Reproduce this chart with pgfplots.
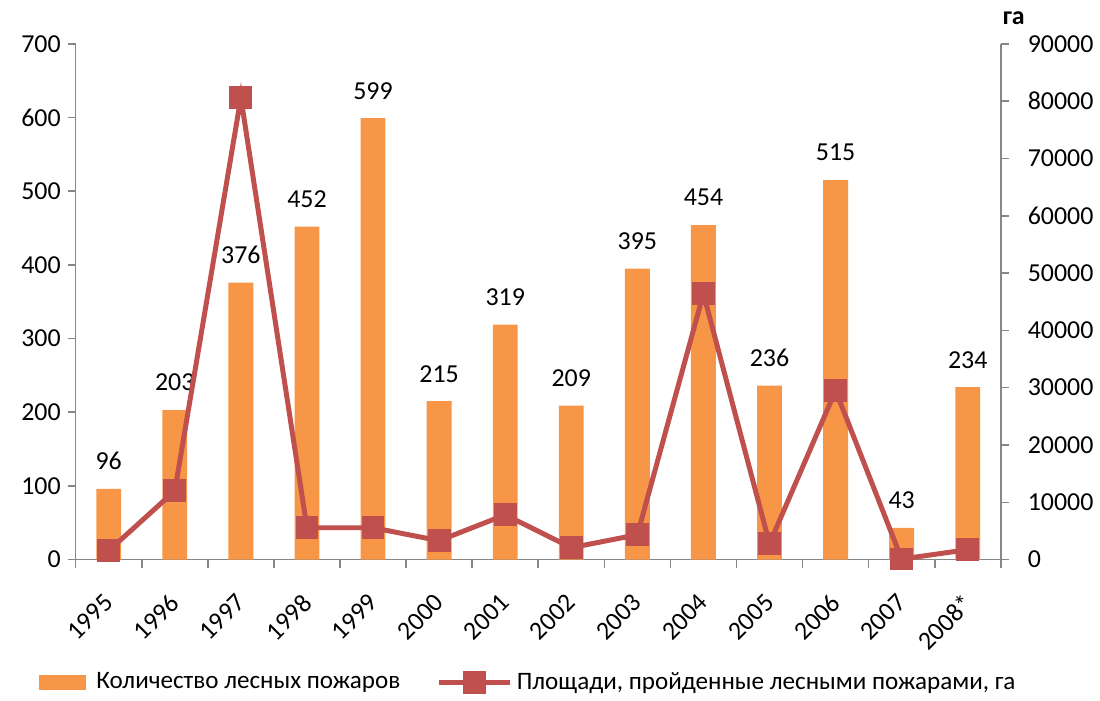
\documentclass[border=0pt]{standalone}
\usepackage{pgfplots}
\pgfplotsset{compat=1.18}
\usepackage{fontspec}
\setmainfont{Carlito}
\definecolor{barorange}{HTML}{F79646}
\definecolor{linered}{HTML}{C0504D}
\definecolor{axisgray}{HTML}{868686}

\begin{document}
\begin{tikzpicture}[font=\fontsize{13}{16}\selectfont]
\pgfplotsset{
  every axis/.append style={
    scale only axis, width=464.5pt, height=259pt,
    xmin=-0.5, xmax=13.5,
    /pgf/number format/assume math mode=true,
    /pgf/number format/1000 sep={},
    tick label style={font=\fontsize{13}{16}\selectfont},
    axis line style={axisgray, line width=0.8pt},
    tick style={axisgray, line width=0.8pt},
    tick align=outside,
    major tick length=4pt,
  }
}
\begin{axis}[
  axis x line*=bottom, axis y line*=left,
  ymin=0, ymax=700, ytick={0,100,...,700},
  xtick={-0.5,0.5,...,13.5}, xticklabels={},
  extra x ticks={0,...,13},
  extra x tick labels={1995,1996,1997,1998,1999,2000,2001,2002,2003,2004,2005,2006,2007,2008*},
  % shifts act in the rotated frame of the label
  extra x tick style={major tick length=0pt, xticklabel style={rotate=45, anchor=north east, inner sep=1pt, xshift=-12.6pt, yshift=-8.3pt}},
  ybar, bar width=12.5pt,
  nodes near coords,
  every node near coord/.append style={black, font=\fontsize{13}{16}\selectfont, yshift=6pt},
  legend style={draw=none, at={(0.49,-0.2375)}, anchor=center, legend columns=2,
    /tikz/every even column/.append style={column sep=16pt},
    font=\fontsize{12.6}{15}\selectfont},
]
\addplot[fill=barorange, draw=none,
  legend image code/.code={\fill[barorange] (0pt,-3.75pt) rectangle (24pt,3.75pt); \path (27pt,0pt);}]
  coordinates {
  (0,96) (1,203) (2,376) (3,452) (4,599) (5,215) (6,319)
  (7,209) (8,395) (9,454) (10,236) (11,515) (12,43) (13,234)
};
\addlegendentry{Количество лесных пожаров}
\addlegendimage{linered, line width=2.5pt, mark=square*, mark size=4.5pt, mark options={fill=linered},
  legend image code/.code={\draw[mark=none] (0pt,0pt) -- (36pt,0pt); \draw plot coordinates {(18pt,0pt)};}}
\addlegendentry{Площади, пройденные лесными пожарами, га}
\end{axis}
\begin{axis}[
  axis y line*=right, axis x line=none, clip=false,
  ymin=0, ymax=90000, ytick={0,10000,...,90000}, scaled y ticks=false,
  yticklabel style={xshift=6pt},
]
\addplot[linered, line width=2.5pt, mark=square*, mark size=4.5pt, mark options={fill=linered}]
  coordinates {
  (0,1560) (1,12000) (2,80600) (3,5560) (4,5560) (5,3300) (6,7820)
  (7,2080) (8,4340) (9,46400) (10,2780) (11,29500) (12,100) (13,1740)
};
\node[anchor=south, font=\fontsize{13}{16}\selectfont\bfseries] at (rel axis cs:1,1) [xshift=6.5pt, yshift=6pt] {га};
\path (rel axis cs:0,0) ++(-38pt,-68pt);
\path (rel axis cs:1,1) ++(47.5pt,22pt);
\end{axis}
\end{tikzpicture}
\end{document}
